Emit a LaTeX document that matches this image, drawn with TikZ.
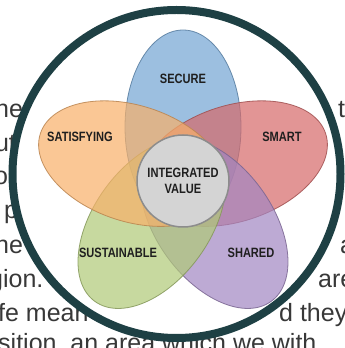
\documentclass[tikz,border=0pt]{standalone}
\usepackage{fontspec}
\setsansfont{Liberation Sans}
\newfontfamily\petalfont[FakeStretch=0.82]{Liberation Sans}
\usetikzlibrary{positioning}

\definecolor{ringteal}{RGB}{30,64,68}
\definecolor{secureblue}{RGB}{115,165,212}
\definecolor{smartred}{RGB}{214,105,105}
\definecolor{sharedpurple}{RGB}{162,134,194}
\definecolor{sustgreen}{RGB}{176,202,119}
\definecolor{satisorange}{RGB}{248,176,105}

\begin{document}
\begin{tikzpicture}[x=1pt,y=1pt,
  petal/.style={fill opacity=0.7,draw opacity=0.85,line width=0.8pt},
  page text/.style={font=\sffamily\fontsize{25}{25}\selectfont,text=black!78,inner sep=0pt,anchor=base west},
  petal label/.style={font=\petalfont\bfseries\fontsize{13.5}{16}\selectfont,text=black!88,align=center,inner sep=1pt}]
  \useasboundingbox (0,0) rectangle (345,348);
  \clip (0,0) rectangle (345,348);

  % page text behind the picture
  \node[page text] (l1) at (-12,230) {the};
  \node[page text] (l2) at (-19,196.5) {out};
  \node[page text] (l3) at (-13,163) {to};
  \node[page text] (l4) at (4,129.5) {p};
  \node[page text] (l5) at (-12,94) {the};
  \node[page text] (l6) at (-11,60) {gion.};
  \node[page text] (l7) at (-2,26) {fe mean};
  \node[page text] (l8) at (-2,-4) {sition, an area which we with};
  \node[page text] (r1) at (338,230) {t};
  \node[page text] (r5) at (340,94) {a};
  \node[page text] (r6) at (318,60) {are};
  \node[page text] (r7) at (279,26) {d they};

  % white disk
  \fill[white] (176.5,174) circle[radius=164];

  % petals
  \coordinate (fc) at (183,168);
  \begin{scope}[shift={(fc)}]
    \filldraw[petal,fill=secureblue,draw=secureblue!75!black] (0,53) ellipse[x radius=58,y radius=97];
    \filldraw[petal,fill=smartred,draw=smartred!75!black,rotate=-72] (0,53) ellipse[x radius=58,y radius=97];
    \filldraw[petal,fill=sharedpurple,draw=sharedpurple!75!black,rotate=-144] (0,53) ellipse[x radius=58,y radius=97];
    \filldraw[petal,fill=sustgreen,draw=sustgreen!75!black,rotate=144] (0,53) ellipse[x radius=58,y radius=97];
    \filldraw[petal,fill=satisorange,draw=satisorange!75!black,rotate=72] (0,53) ellipse[x radius=58,y radius=97];
  \end{scope}

  \node[petal label,circle,draw=black!45,line width=1.5pt,fill=black!17,minimum size=92pt] (integrated) at (183,167) {INTEGRATED\\VALUE};

  \node[petal label] (secure) at (183,269) {SECURE};
  \node[petal label] (smart) at (282,211) {SMART};
  \node[petal label] (shared) at (251,95) {SHARED};
  \node[petal label] (sustainable) at (118,95) {SUSTAINABLE};
  \node[petal label] (satisfying) at (80,211) {SATISFYING};

  % ring
  \draw[ringteal,line width=8pt] (176.5,174) circle[radius=164];
\end{tikzpicture}
\end{document}
